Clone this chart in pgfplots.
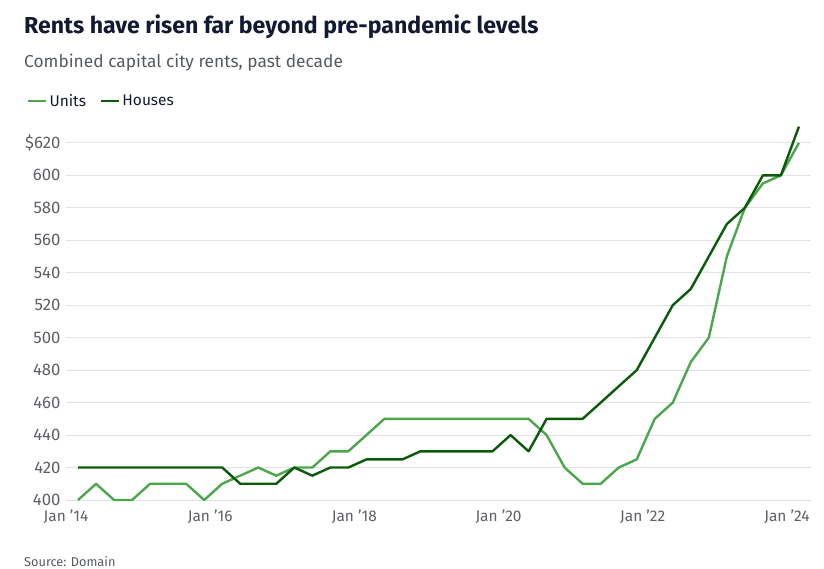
\documentclass[border=0pt]{standalone}
\usepackage{pgfplots}
\pgfplotsset{compat=1.18}
\usepackage{fontspec}
\setmainfont{Fira Sans}
\definecolor{units}{HTML}{4CA64C}
\definecolor{houses}{HTML}{0A5A0A}
\definecolor{titlec}{HTML}{121A33}
\definecolor{subc}{HTML}{555A60}
\definecolor{tickc}{HTML}{5E6066}
\definecolor{gridc}{HTML}{E2E2E2}
\begin{document}
\begin{tikzpicture}
\useasboundingbox (0bp,0bp) rectangle (824bp,-569bp);
\node[anchor=base west, text=titlec, font=\fontsize{23.2}{26}\selectfont\bfseries, inner sep=0] at (24bp,-33bp) {Rents have risen far beyond pre-pandemic levels};
\node[anchor=base west, text=subc, font=\fontsize{17.4}{20}\selectfont, inner sep=0] at (24bp,-67bp) {Combined capital city rents, past decade};
\node[anchor=base west, text=subc, font=\fontsize{12.8}{14}\selectfont, inner sep=0] at (24bp,-566bp) {Source: Domain};
\begin{axis}[
  at={(66bp,-500bp)}, anchor=south west,
  scale only axis, width=745bp, height=375bp,
  xmin=-0.667, xmax=40.67, ymin=400, ymax=631,
  axis line style={draw=none},
  tick style={draw=none},
  ymajorgrids, grid style={gridc, line width=1bp},
  ytick={400,420,...,620},
  yticklabels={400,420,440,460,480,500,520,540,560,580,600,\$620},
  xtick={-0.6667,7.3333,15.3333,23.3333,31.3333,39.3333},
  xticklabels={Jan ’14,Jan ’16,Jan ’18,Jan ’20,Jan ’22,Jan ’24},
  yticklabel style={text=tickc, font=\fontsize{16.8}{18}\selectfont, xshift=-2bp},
  xticklabel style={text=tickc, font=\fontsize{15.5}{18}\selectfont, yshift=-6bp},
  /pgf/number format/assume math mode=true,
  clip=false,
  legend style={at={(-0.0565,1.064)}, anchor=west, draw=none, fill=none,
    legend columns=2, font=\fontsize{15.5}{18}\selectfont, text=titlec,
    /tikz/every even column/.append style={column sep=12bp}},
  legend image code/.code={\draw[#1, line width=2.5bp] (0bp,0bp) -- (18bp,0bp);},
  every axis plot/.append style={line width=2.4bp, line join=round},
]
\addplot[units, mark=none] coordinates {
(0,400)(1,410)(2,400)(3,400)(4,410)(5,410)(6,410)(7,400)(8,410)(9,415)
(10,420)(11,415)(12,420)(13,420)(14,430)(15,430)(16,440)(17,450)(18,450)(19,450)
(20,450)(21,450)(22,450)(23,450)(24,450)(25,450)(26,440)(27,420)(28,410)(29,410)
(30,420)(31,425)(32,450)(33,460)(34,485)(35,500)(36,550)(37,580)(38,595)(39,600)
(40,620)};
\addlegendentry{Units}
\addplot[houses, mark=none] coordinates {
(0,420)(1,420)(2,420)(3,420)(4,420)(5,420)(6,420)(7,420)(8,420)(9,410)
(10,410)(11,410)(12,420)(13,415)(14,420)(15,420)(16,425)(17,425)(18,425)(19,430)
(20,430)(21,430)(22,430)(23,430)(24,440)(25,430)(26,450)(27,450)(28,450)(29,460)
(30,470)(31,480)(32,500)(33,520)(34,530)(35,550)(36,570)(37,580)(38,600)(39,600)
(40,630)};
\addlegendentry{Houses}
\end{axis}
\end{tikzpicture}
\end{document}
